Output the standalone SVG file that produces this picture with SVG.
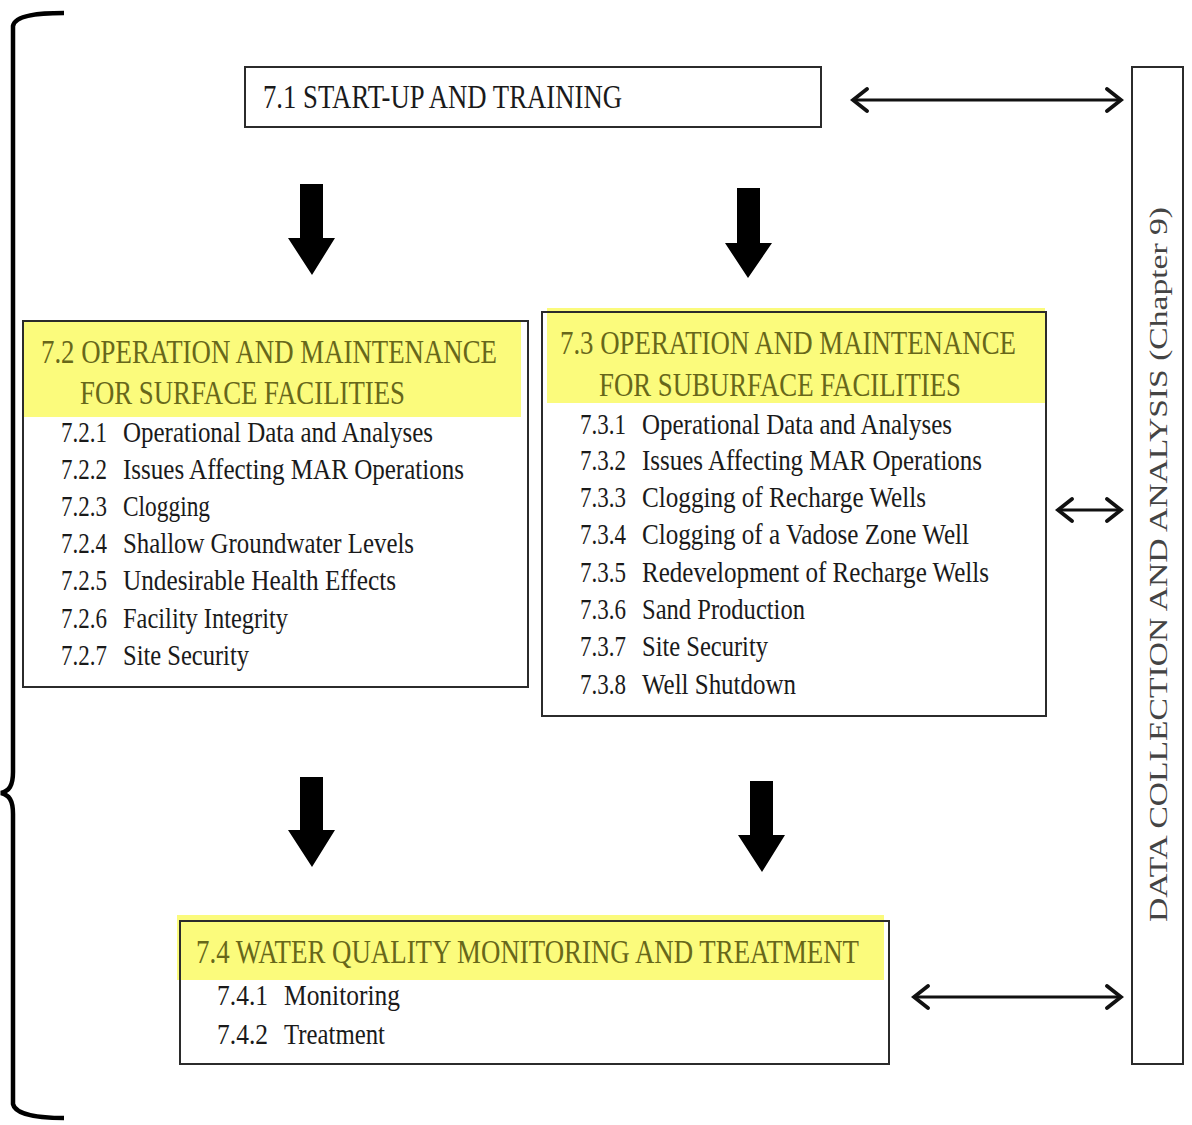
<svg xmlns="http://www.w3.org/2000/svg" width="1192" height="1125" viewBox="0 0 1192 1125">
  <style>
    .box { fill: none; stroke: #2b2b2b; stroke-width: 2; }
    .hl { fill: #fbfb7c; }
    .t { font-family: "Liberation Serif", "Times New Roman", serif; fill: #1a1a1a; }
    .title { font-size: 33px; }
    .hlt { fill: #67671a; }
    .item { font-size: 30px; }
    .side { font-family: "Liberation Serif", "Times New Roman", serif; font-size: 26px; fill: #444; }
    .dbl { stroke: #111; stroke-width: 3; fill: none; marker-start: url(#chev); marker-end: url(#chev); }
    .block { fill: #000; }
  </style>
  <defs>
    <marker id="chev" viewBox="0 0 20 26" refX="17" refY="13" markerWidth="20" markerHeight="26" markerUnits="userSpaceOnUse" orient="auto-start-reverse">
      <path d="M3,2 L17,13 L3,24" fill="none" stroke="#111" stroke-width="3.8" stroke-linecap="round" stroke-linejoin="miter"/>
    </marker>
  </defs>

  <rect width="1192" height="1125" fill="#fff"/>

  <!-- left curly brace grouping the whole chapter -->
  <g id="brace">
    <path d="M64,13 C40,13 15,15 13,26 L13,772 C13,786 9,791 1,793 C9,795 13,800 13,814 L13,1104 C15,1115 40,1118 64,1118" fill="none" stroke="#000" stroke-width="4.5"/>
  </g>

  <!-- 7.1 -->
  <g id="node-7-1">
    <rect class="box" x="245" y="67" width="576" height="60"/>
    <text class="t title" x="263" y="108" textLength="359" lengthAdjust="spacingAndGlyphs">7.1 START-UP AND TRAINING</text>
  </g>

  <!-- 7.2 -->
  <g id="node-7-2">
    <rect class="hl" x="24" y="322" width="497" height="95"/>
    <rect class="box" x="23" y="321" width="505" height="366"/>
    <text class="t title hlt" x="41" y="363" textLength="456" lengthAdjust="spacingAndGlyphs">7.2 OPERATION AND MAINTENANCE</text>
    <text class="t title hlt" x="80" y="404" textLength="325" lengthAdjust="spacingAndGlyphs">FOR SURFACE FACILITIES</text>
    <g class="t item">
      <text x="61" y="442" textLength="46" lengthAdjust="spacingAndGlyphs">7.2.1</text>
      <text x="123" y="442" textLength="310" lengthAdjust="spacingAndGlyphs">Operational Data and Analyses</text>
      <text x="61" y="479" textLength="46" lengthAdjust="spacingAndGlyphs">7.2.2</text>
      <text x="123" y="479" textLength="341" lengthAdjust="spacingAndGlyphs">Issues Affecting MAR Operations</text>
      <text x="61" y="516" textLength="46" lengthAdjust="spacingAndGlyphs">7.2.3</text>
      <text x="123" y="516" textLength="87" lengthAdjust="spacingAndGlyphs">Clogging</text>
      <text x="61" y="553" textLength="46" lengthAdjust="spacingAndGlyphs">7.2.4</text>
      <text x="123" y="553" textLength="291" lengthAdjust="spacingAndGlyphs">Shallow Groundwater Levels</text>
      <text x="61" y="590" textLength="46" lengthAdjust="spacingAndGlyphs">7.2.5</text>
      <text x="123" y="590" textLength="273" lengthAdjust="spacingAndGlyphs">Undesirable Health Effects</text>
      <text x="61" y="628" textLength="46" lengthAdjust="spacingAndGlyphs">7.2.6</text>
      <text x="123" y="628" textLength="165" lengthAdjust="spacingAndGlyphs">Facility Integrity</text>
      <text x="61" y="665" textLength="46" lengthAdjust="spacingAndGlyphs">7.2.7</text>
      <text x="123" y="665" textLength="126" lengthAdjust="spacingAndGlyphs">Site Security</text>
    </g>
  </g>

  <!-- 7.3 -->
  <g id="node-7-3">
    <rect class="hl" x="547" y="308" width="498" height="95"/>
    <rect class="box" x="542" y="312" width="504" height="404"/>
    <text class="t title hlt" x="560" y="354" textLength="456" lengthAdjust="spacingAndGlyphs">7.3 OPERATION AND MAINTENANCE</text>
    <text class="t title hlt" x="599" y="396" textLength="362" lengthAdjust="spacingAndGlyphs">FOR SUBURFACE FACILITIES</text>
    <g class="t item">
      <text x="580" y="434" textLength="46" lengthAdjust="spacingAndGlyphs">7.3.1</text>
      <text x="642" y="434" textLength="310" lengthAdjust="spacingAndGlyphs">Operational Data and Analyses</text>
      <text x="580" y="470" textLength="46" lengthAdjust="spacingAndGlyphs">7.3.2</text>
      <text x="642" y="470" textLength="340" lengthAdjust="spacingAndGlyphs">Issues Affecting MAR Operations</text>
      <text x="580" y="507" textLength="46" lengthAdjust="spacingAndGlyphs">7.3.3</text>
      <text x="642" y="507" textLength="284" lengthAdjust="spacingAndGlyphs">Clogging  of Recharge Wells</text>
      <text x="580" y="544" textLength="46" lengthAdjust="spacingAndGlyphs">7.3.4</text>
      <text x="642" y="544" textLength="327" lengthAdjust="spacingAndGlyphs">Clogging  of a Vadose Zone Well</text>
      <text x="580" y="582" textLength="46" lengthAdjust="spacingAndGlyphs">7.3.5</text>
      <text x="642" y="582" textLength="347" lengthAdjust="spacingAndGlyphs">Redevelopment of Recharge Wells</text>
      <text x="580" y="619" textLength="46" lengthAdjust="spacingAndGlyphs">7.3.6</text>
      <text x="642" y="619" textLength="163" lengthAdjust="spacingAndGlyphs">Sand Production</text>
      <text x="580" y="656" textLength="46" lengthAdjust="spacingAndGlyphs">7.3.7</text>
      <text x="642" y="656" textLength="126" lengthAdjust="spacingAndGlyphs">Site Security</text>
      <text x="580" y="694" textLength="46" lengthAdjust="spacingAndGlyphs">7.3.8</text>
      <text x="642" y="694" textLength="154" lengthAdjust="spacingAndGlyphs">Well Shutdown</text>
    </g>
  </g>

  <!-- 7.4 -->
  <g id="node-7-4">
    <rect class="hl" x="177" y="915" width="707" height="65"/>
    <rect class="box" x="180" y="921" width="709" height="143"/>
    <text class="t title hlt" x="196" y="963" textLength="663" lengthAdjust="spacingAndGlyphs">7.4 WATER QUALITY MONITORING AND TREATMENT</text>
    <g class="t item">
      <text x="217" y="1005" textLength="51" lengthAdjust="spacingAndGlyphs">7.4.1</text>
      <text x="284" y="1005" textLength="116" lengthAdjust="spacingAndGlyphs">Monitoring</text>
      <text x="217" y="1044" textLength="51" lengthAdjust="spacingAndGlyphs">7.4.2</text>
      <text x="284" y="1044" textLength="101" lengthAdjust="spacingAndGlyphs">Treatment</text>
    </g>
  </g>

  <!-- data collection column -->
  <g id="node-data">
    <rect class="box" x="1132" y="67" width="51" height="997"/>
    <text class="side" transform="translate(1167,922) rotate(-90)" x="0" y="0" textLength="715" lengthAdjust="spacingAndGlyphs">DATA COLLECTION AND ANALYSIS (Chapter 9)</text>
  </g>

  <!-- connectors -->
  <g id="connectors">
    <!-- flow arrows between stages -->
    <polygon class="block" points="300,184 323,184 323,238 335,238 312,275 288,238 300,238"/>
    <polygon class="block" points="737,188 760,188 760,243 772,243 748,278 725,243 737,243"/>
    <polygon class="block" points="300,777 323,777 323,830 335,830 312,867 288,830 300,830"/>
    <polygon class="block" points="750,781 773,781 773,835 785,835 762,872 738,835 750,835"/>
    <!-- two-way links to data collection -->
    <line class="dbl" x1="853" y1="100" x2="1121" y2="100"/>
    <line class="dbl" x1="1058" y1="510" x2="1121" y2="510"/>
    <line class="dbl" x1="914" y1="997" x2="1121" y2="997"/>
  </g>
</svg>
